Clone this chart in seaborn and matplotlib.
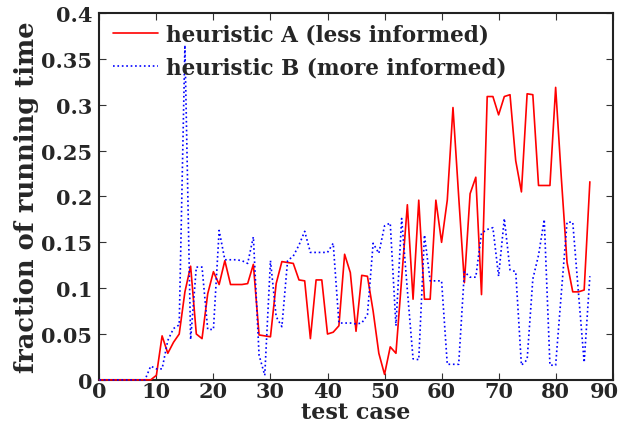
import matplotlib
matplotlib.use("Agg")
import matplotlib.pyplot as plt
import seaborn as sns
from matplotlib.transforms import ScaledTranslation

sns.set_style("ticks")
plt.rcParams["font.family"] = ["DejaVu Serif"]
plt.rcParams["font.weight"] = "bold"
plt.rcParams["axes.labelweight"] = "bold"

test_case = list(range(87))

heuristic_a = [
    0, 0, 0, 0, 0, 0, 0, 0, 0, 0,
    0.005, 0.048, 0.029, 0.041, 0.050, 0.096, 0.124, 0.050, 0.045, 0.094,
    0.118, 0.104, 0.130, 0.104, 0.104, 0.104, 0.105, 0.126, 0.049, 0.048,
    0.047, 0.105, 0.129, 0.128, 0.127, 0.109, 0.108, 0.045, 0.109, 0.109,
    0.050, 0.052, 0.059, 0.137, 0.117, 0.053, 0.114, 0.113, 0.075, 0.029,
    0.006, 0.036, 0.029, 0.110, 0.191, 0.088, 0.196, 0.088, 0.088, 0.196,
    0.150, 0.196, 0.297, 0.200, 0.106, 0.203, 0.221, 0.093, 0.309, 0.309,
    0.289, 0.309, 0.311, 0.239, 0.205, 0.312, 0.311, 0.212, 0.212, 0.212,
    0.319, 0.220, 0.128, 0.096, 0.096, 0.098, 0.216,
]

heuristic_b = [
    0, 0, 0, 0, 0, 0, 0, 0, 0, 0.015,
    0.012, 0.012, 0.043, 0.056, 0.060, 0.365, 0.044, 0.123, 0.123, 0.055,
    0.055, 0.163, 0.131, 0.131, 0.131, 0.130, 0.127, 0.156, 0.027, 0.005,
    0.130, 0.069, 0.058, 0.130, 0.135, 0.147, 0.162, 0.139, 0.139, 0.139,
    0.139, 0.149, 0.062, 0.062, 0.062, 0.061, 0.062, 0.071, 0.149, 0.138,
    0.168, 0.171, 0.059, 0.176, 0.098, 0.023, 0.022, 0.158, 0.108, 0.108,
    0.108, 0.017, 0.017, 0.017, 0.118, 0.112, 0.112, 0.160, 0.164, 0.166,
    0.113, 0.176, 0.120, 0.118, 0.016, 0.022, 0.110, 0.136, 0.175, 0.016,
    0.016, 0.095, 0.172, 0.172, 0.095, 0.019, 0.113,
]

x_ticks = [0, 10, 20, 30, 40, 50, 60, 70, 80, 90]
x_labels = ["0", "10", "20", "30", "40", "50", "60", "70", "80", "90"]
y_ticks = [0, 0.05, 0.1, 0.15, 0.2, 0.25, 0.3, 0.35, 0.4]
y_labels = ["0", "0.05", "0.1", "0.15", "0.2", "0.25", "0.3", "0.35", "0.4"]

fig, ax = plt.subplots(figsize=(6.21, 4.27), dpi=100)
fig.subplots_adjust(left=0.16, right=0.9866, bottom=0.108, top=0.967)

sns.lineplot(x=test_case, y=heuristic_a, ax=ax, color="red", linewidth=1.2,
             label="heuristic A (less informed)")
sns.lineplot(x=test_case, y=heuristic_b, ax=ax, color="blue", linewidth=1.2,
             linestyle=":", label="heuristic B (more informed)")

# lines sit on top of the frame so the zero stretch shows on the x axis
for line in ax.lines:
    line.set_zorder(3)
    line.set_clip_on(False)

ax.set_xlim(0, 90)
ax.set_ylim(0, 0.4)
ax.set_xticks(x_ticks, x_labels)
ax.set_yticks(y_ticks, y_labels)
ax.tick_params(direction="in", top=True, right=True, labelsize=15, length=5,
               color="#333333")
ax.tick_params(axis="x", pad=1)
ax.tick_params(axis="y", pad=5)
for s in ax.spines.values():
    s.set_color("#222222")
    s.set_linewidth(1.5)

# last x label sits a little left so it stays inside the canvas
last = ax.xaxis.get_major_ticks()[-1].label1
last.set_transform(last.get_transform()
                   + ScaledTranslation(-6 / 72, 0, fig.dpi_scale_trans))

ax.set_xlabel("test case", fontsize=16, labelpad=0)
ax.set_ylabel("fraction of running time", fontsize=18.5, labelpad=2)

ax.legend(loc="upper left", bbox_to_anchor=(0.027, 0.972), frameon=False,
          fontsize=15.5, handlelength=2.1, borderpad=0, borderaxespad=0,
          labelspacing=0.5, handletextpad=0.35)

fig.savefig("out.png", dpi=100)
